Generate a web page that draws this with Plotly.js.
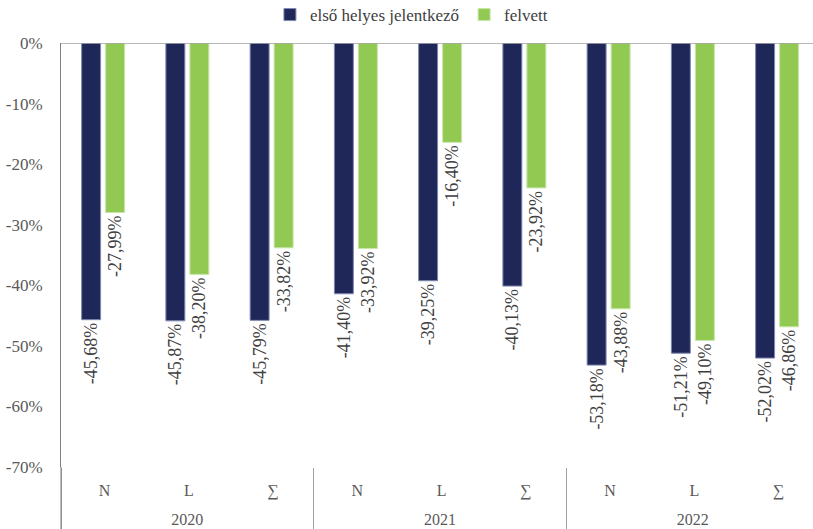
<!DOCTYPE html>
<html>
<head>
<meta charset="utf-8">
<script src="https://cdn.plot.ly/plotly-3.0.1.min.js"></script>
<style>html,body{margin:0;padding:0;background:#fff;}#chart{width:813px;height:529px;}</style>
</head>
<body>
<div id="chart"></div>
<script>
var years = ["2020","2020","2020","2021","2021","2021","2022","2022","2022"];
var cats = ["N","L","∑","N","L","∑","N","L","∑"];
var seriesNames = ["első helyes jelentkező", "felvett"];
var firstApplicants = [-45.68, -45.87, -45.79, -41.40, -39.25, -40.13, -53.18, -51.21, -52.02];
var admitted = [-27.99, -38.20, -33.82, -33.92, -16.40, -23.92, -43.88, -49.10, -46.86];
var yTickVals = [0, -10, -20, -30, -40, -50, -60, -70];
var yTickText = ["0%", "-10%", "-20%", "-30%", "-40%", "-50%", "-60%", "-70%"];

function fmt(v){ return v.toFixed(2).replace('.', ',') + '%'; }
// invisible tall strut so the year row sits lower, as in the reference
var catLabels = cats.map(function(c){ return "<span style='font-size:35px'>\u200a</span>" + c; });
var FONT = "'Liberation Serif', 'Times New Roman', 'DejaVu Serif', serif";
var TXT = "#404040";

var traces = [
  {type:'bar', name:seriesNames[0], x:[years,catLabels], y:firstApplicants,
   marker:{color:'#1F2759', line:{color:'#7f8bb0', width:1}},
   text:firstApplicants.map(fmt), textposition:'outside', textangle:-90,
   constraintext:'none', cliponaxis:false,
   textfont:{family:FONT, size:18, color:TXT}, hoverinfo:'none'},
  {type:'bar', name:seriesNames[1], x:[years,catLabels], y:admitted,
   marker:{color:'#92C953', line:{color:'#c8e6a8', width:1}},
   text:admitted.map(fmt), textposition:'outside', textangle:-90,
   constraintext:'none', cliponaxis:false,
   textfont:{family:FONT, size:18, color:TXT}, hoverinfo:'none'}
];

var layout = {
  width:813, height:529,
  margin:{l:61, r:0, t:43, b:62, autoexpand:false},
  paper_bgcolor:'#fff', plot_bgcolor:'#fff',
  font:{family:FONT, color:TXT},
  barmode:'group', bargap:0.43, bargroupgap:0.21,
  showlegend:true,
  legend:{orientation:'h', x:0.466, xanchor:'center', y:1.066, yanchor:'middle',
          font:{family:FONT, size:17, color:TXT}, itemwidth:30},
  xaxis:{type:'multicategory', range:[-0.5, 8.426], showgrid:false, zeroline:false,
         showline:false, ticks:'', ticklabelstandoff:12,
         showdividers:true, dividercolor:'#a0a0a0', dividerwidth:1,
         tickfont:{family:FONT, size:16, color:'#595959'}},
  yaxis:{range:[-70, 0], tickvals:yTickVals, ticktext:yTickText, showgrid:false,
         zeroline:false, showline:true, linecolor:'#808080', linewidth:1, ticks:'',
         ticklabelstandoff:14,
         tickfont:{family:FONT, size:17, color:'#595959'}},
  shapes:[
    {type:'line', xref:'paper', yref:'y', x0:0, x1:1, y0:0, y1:0, line:{color:'#a0a0a0', width:1.5}},
    {type:'line', xref:'paper', yref:'paper', x0:0, x1:0, y0:0, y1:-62/424, line:{color:'#808080', width:1}}
  ]
};

Plotly.newPlot('chart', traces, layout, {staticPlot:true, displayModeBar:false});
</script>
</body>
</html>
